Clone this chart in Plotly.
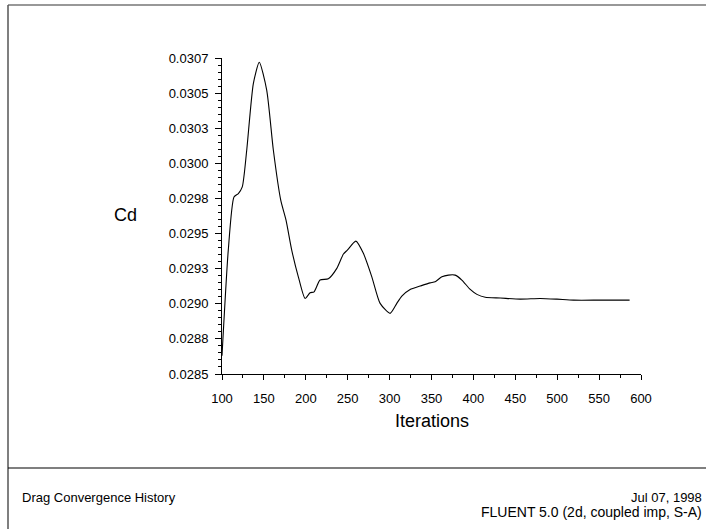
import plotly.graph_objects as go

# Drag coefficient history
iterations = [100, 107.5, 114.3, 119.5, 124.2, 129.5, 137.4, 144.5, 153.4, 161.3,
              170.1, 176.4, 183.2, 191.1, 199.1, 205.1, 209.9, 217.0, 226.9, 237.0,
              244.9, 249.6, 259.7, 268.7, 278.8, 288.7, 300.6, 308.6, 314.6, 324.5,
              336.4, 348.4, 354.4, 362.4, 370.2, 378.2, 386.2, 396.2, 404.2, 414.1,
              432.0, 455.9, 479.7, 499.7, 519.5, 551.4, 586.4]
cd = [0.028630, 0.029382, 0.029761, 0.029785, 0.029832, 0.030093, 0.030568, 0.030720, 0.030520, 0.030093,
      0.029738, 0.029595, 0.029382, 0.029192, 0.029038, 0.029078, 0.029085, 0.029169, 0.029178, 0.029252,
      0.029354, 0.029382, 0.029446, 0.029359, 0.029192, 0.029003, 0.028932, 0.029003, 0.029055, 0.029102,
      0.029126, 0.029149, 0.029157, 0.029192, 0.029204, 0.029204, 0.029169, 0.029102, 0.029067, 0.029046,
      0.029041, 0.029033, 0.029038, 0.029033, 0.029026, 0.029026, 0.029026]

y_tickvals = [0.0285, 0.02875, 0.029, 0.02925, 0.0295, 0.02975, 0.03, 0.03025, 0.0305, 0.03075]
y_ticktext = ["0.0285", "0.0288", "0.0290", "0.0293", "0.0295",
              "0.0298", "0.0300", "0.0303", "0.0305", "0.0307"]
x_tickvals = [100, 150, 200, 250, 300, 350, 400, 450, 500, 550, 600]

W, H = 706, 529
# plot area in pixels
L, R, T, B = 222, 641, 58, 374


def px(x):
    return (x - L) / (R - L)


def py(y):
    return (B - y) / (B - T)


fig = go.Figure()
fig.add_trace(go.Scatter(
    x=iterations, y=cd, mode='lines',
    line=dict(color='black', width=1.1, shape='spline', smoothing=0.6),
    hoverinfo='x+y', showlegend=False
))

font = "Liberation Sans, Arial, sans-serif"
line_col = '#333333'

fig.update_layout(
    width=W, height=H, autosize=False,
    margin=dict(l=L, r=W - R, t=T, b=H - B),
    paper_bgcolor='white', plot_bgcolor='white',
    font=dict(family=font, size=13, color='black'),
    xaxis=dict(
        range=[100, 600], tickmode='array', tickvals=x_tickvals,
        showgrid=False, zeroline=False, showline=True, linecolor='black', linewidth=1,
        ticks='outside', ticklen=5, tickcolor='black', tickwidth=1,
        ticklabelstandoff=7,
        minor=dict(tickmode='linear', tick0=100, dtick=25, ticks='outside', ticklen=3,
                   tickcolor='black', showgrid=False),
        tickfont=dict(size=13),
    ),
    yaxis=dict(
        range=[0.0285, 0.03075], tickmode='array', tickvals=y_tickvals, ticktext=y_ticktext,
        showgrid=False, zeroline=False, showline=True, linecolor='black', linewidth=1,
        ticks='outside', ticklen=6, tickcolor='black', tickwidth=1,
        ticklabelstandoff=4,
        minor=dict(tickmode='linear', tick0=0.0285, dtick=0.00005, ticks='outside', ticklen=3,
                   tickcolor='black', showgrid=False),
        tickfont=dict(size=13),
    ),
    annotations=[
        dict(text="Cd", x=px(125), y=py(215), xref='paper', yref='paper',
             showarrow=False, font=dict(size=18), xanchor='center', yanchor='middle'),
        dict(text="Iterations", x=px(432), y=py(421), xref='paper', yref='paper',
             showarrow=False, font=dict(size=18), xanchor='center', yanchor='middle'),
        dict(text="Drag Convergence History", x=px(20), y=py(497), xref='paper', yref='paper',
             showarrow=False, font=dict(size=13), xanchor='left', yanchor='middle'),
        dict(text="Jul 07, 1998", x=px(704), y=py(497), xref='paper', yref='paper',
             showarrow=False, font=dict(size=13), xanchor='right', yanchor='middle'),
        dict(text="FLUENT 5.0 (2d, coupled imp, S-A)", x=px(704), y=py(512), xref='paper', yref='paper',
             showarrow=False, font=dict(size=14), xanchor='right', yanchor='middle'),
    ],
    shapes=[
        # outer frame: top and left edge
        dict(type='line', xref='paper', yref='paper', x0=px(8), x1=px(706), y0=py(5), y1=py(5),
             line=dict(color=line_col, width=1.2)),
        dict(type='line', xref='paper', yref='paper', x0=px(8), x1=px(8), y0=py(5), y1=py(529),
             line=dict(color='#555555', width=1.5)),
        # footer separator
        dict(type='line', xref='paper', yref='paper', x0=px(8), x1=px(706), y0=py(468), y1=py(468),
             line=dict(color='black', width=1.2)),
    ],
)

# drop the browser's default body margin so the figure sits at the window's corner
fig.write_html("out.html", config={'displayModeBar': False},
               post_script="document.body.style.margin='0';")
